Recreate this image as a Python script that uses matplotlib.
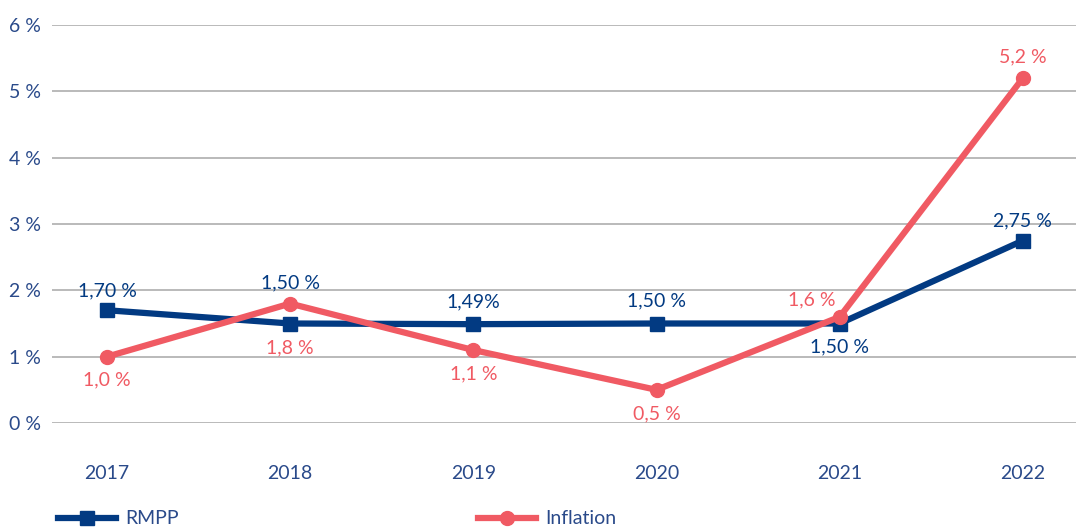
import matplotlib
matplotlib.use("Agg")
import matplotlib.pyplot as plt
from matplotlib.lines import Line2D

years = ["2017", "2018", "2019", "2020", "2021", "2022"]
rmpp = [1.70, 1.50, 1.49, 1.50, 1.50, 2.75]
inflation = [1.0, 1.8, 1.1, 0.5, 1.6, 5.2]
rmpp_labels = ["1,70 %", "1,50 %", "1,49%", "1,50 %", "1,50 %", "2,75 %"]
infl_labels = ["1,0 %", "1,8 %", "1,1 %", "0,5 %", "1,6 %", "5,2 %"]
yticks = [0, 1, 2, 3, 4, 5, 6]
ytick_labels = ["0 %", "1 %", "2 %", "3 %", "4 %", "5 %", "6 %"]

NAVY = "#023a82"
RED = "#f05a63"
TXT = "#2a4a8a"
FS = 14

plt.rcParams['font.family'] = ['Lato', 'DejaVu Sans']

W, H = 1076, 529
fig = plt.figure(figsize=(W/100, H/100), dpi=100)
ax = fig.add_axes([52/W, (H-423)/H, 1-52/W, (423-25)/H])

x = list(range(len(years)))
ax.plot(x, rmpp, color=NAVY, lw=4.5, marker='s', ms=10, zorder=3, label="RMPP")
ax.plot(x, inflation, color=RED, lw=4.5, marker='o', ms=10, zorder=4, label="Inflation")

ax.set_xlim(-0.3, 5.29)
ax.set_ylim(0, 6)
ax.set_yticks(yticks)
ax.set_yticklabels(ytick_labels)
ax.set_xticks(x)
ax.set_xticklabels(years)
ax.grid(axis='y', color='#b4b4b4', lw=1.3)
ax.set_axisbelow(True)
for s in ax.spines.values():
    s.set_visible(False)
ax.tick_params(axis='both', length=0, labelsize=FS, labelcolor=TXT)
ax.tick_params(axis='x', pad=30)
ax.tick_params(axis='y', pad=8)

r_off = [(0, 14), (0, 29), (0, 16), (0, 16), (0, -17), (0, 14)]
for i, (v, t) in enumerate(zip(rmpp, rmpp_labels)):
    dx, dy = r_off[i]
    ax.annotate(t, (i, v), xytext=(dx, dy), textcoords='offset points',
                ha='center', va='center', color=NAVY, fontsize=FS)
i_off = [(0, -17), (0, -32), (0, -17), (0, -17), (-20, 12), (0, 15)]
for i, (v, t) in enumerate(zip(inflation, infl_labels)):
    dx, dy = i_off[i]
    ax.annotate(t, (i, v), xytext=(dx, dy), textcoords='offset points',
                ha='center', va='center', color=RED, fontsize=FS)

h1 = Line2D([], [], color=NAVY, lw=4.5, marker='s', ms=10)
h2 = Line2D([], [], color=RED, lw=4.5, marker='o', ms=10)
leg1 = fig.legend([h1], ["RMPP"], loc='center left', bbox_to_anchor=(40/W, (H-519)/H),
                  frameon=False, fontsize=FS, handlelength=3.0, handletextpad=0.5)
for t in leg1.get_texts():
    t.set_color(TXT)
leg2 = fig.legend([h2], ["Inflation"], loc='center left', bbox_to_anchor=(460/W, (H-519)/H),
                  frameon=False, fontsize=FS, handlelength=3.0, handletextpad=0.5)
for t in leg2.get_texts():
    t.set_color(TXT)

fig.savefig("out.png", dpi=100)
